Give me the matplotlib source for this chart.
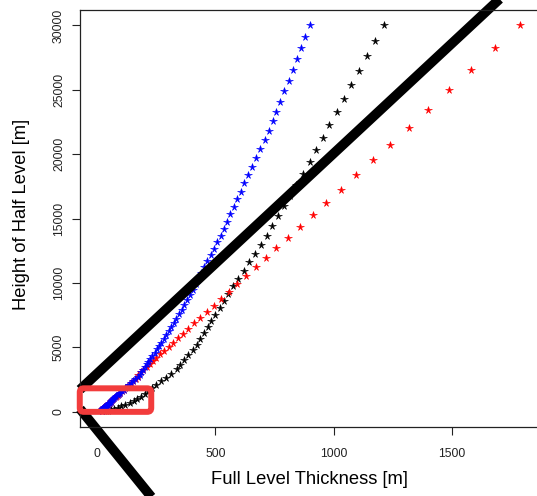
import numpy as np
import matplotlib.pyplot as plt
from matplotlib.patches import FancyBboxPatch

plt.rcParams['font.family'] = ['Liberation Sans', 'DejaVu Sans']

# full level thickness [m] and height of half level [m]
blue_thick = [898, 880, 862, 844, 827, 810, 792, 775, 758, 742,
              726, 708, 690, 673, 656, 639, 623, 608, 592, 578,
              563, 549, 535, 522, 507, 493, 480, 466, 453, 441,
              428, 417, 405, 394, 381, 369, 357, 345, 334, 324,
              313, 303, 293, 282, 272, 262, 252, 243, 234, 225,
              217, 209, 201, 194, 187, 180, 173, 162, 153, 144,
              135, 127, 119, 112, 105, 99, 93, 88, 82, 77,
              73, 68, 64, 61, 57, 53, 50, 47, 45, 42,
              39, 37, 35, 33, 31, 29, 27, 25, 24, 22,
              21, 20, 20, 20, 20, 20, 20]
blue_height = [30000, 29102, 28222, 27360, 26516, 25689, 24879, 24087, 23312, 22554,
               21812, 21086, 20378, 19688, 19015, 18359, 17720, 17097, 16489, 15897,
               15319, 14756, 14207, 13672, 13150, 12643, 12150, 11670, 11204, 10751,
               10310, 9882, 9465, 9060, 8666, 8285, 7916, 7559, 7214, 6880,
               6556, 6243, 5940, 5647, 5365, 5093, 4831, 4579, 4336, 4102,
               3877, 3660, 3451, 3250, 3056, 2869, 2689, 2516, 2354, 2201,
               2057, 1922, 1795, 1676, 1564, 1459, 1360, 1267, 1179, 1097,
               1020, 947, 879, 815, 754, 697, 644, 594, 547, 502,
               460, 421, 384, 349, 316, 285, 256, 229, 204, 180,
               157, 136, 116, 96, 76, 56, 36]

red_thick = [1788, 1682, 1582, 1487, 1399, 1316, 1237, 1164, 1095, 1029,
             968, 911, 856, 805, 758, 712, 670, 630, 593, 557,
             524, 493, 464, 436, 410, 386, 363, 341, 321, 302,
             284, 267, 251, 236, 222, 209, 196, 185, 174, 173,
             163, 153, 144, 135, 127, 120, 112, 106, 99, 93,
             88, 83, 78, 73, 69, 64, 61, 57, 54, 50,
             47, 45, 42, 39, 37, 35, 33, 31, 29, 27,
             25, 24, 22, 21, 20, 20, 20, 20, 20, 20]
red_height = [30000, 28212, 26530, 24948, 23461, 22062, 20746, 19509, 18345, 17250,
              16221, 15253, 14342, 13486, 12681, 11923, 11211, 10541, 9911, 9318,
              8761, 8237, 7744, 7280, 6844, 6434, 6048, 5685, 5344, 5023,
              4721, 4437, 4170, 3919, 3683, 3461, 3252, 3056, 2871, 2697,
              2524, 2361, 2208, 2064, 1929, 1802, 1682, 1570, 1464, 1365,
              1272, 1184, 1101, 1023, 950, 881, 817, 756, 699, 645,
              595, 548, 503, 461, 422, 385, 350, 317, 286, 257,
              230, 205, 181, 158, 137, 117, 97, 77, 57, 37]

black_thick = [1212, 1176, 1141, 1108, 1075, 1043, 1012, 982, 953, 925,
               898, 869, 842, 815, 789, 764, 740, 717, 691, 666,
               642, 619, 597, 575, 555, 536, 518, 500, 483, 467,
               451, 435, 421, 404, 385, 368, 352, 336, 312, 290,
               269, 250, 232, 216, 202, 187, 170, 155, 139, 120,
               103, 89, 71, 57, 45, 36]
black_height = [30000, 28788, 27612, 26471, 25363, 24288, 23245, 22233, 21251, 20298,
                19373, 18475, 17606, 16764, 15949, 15160, 14396, 13656, 12939, 12248,
                11582, 10940, 10321, 9724, 9149, 8594, 8058, 7540, 7040, 6557,
                6090, 5639, 5204, 4783, 4379, 3994, 3626, 3274, 2938, 2626,
                2336, 2067, 1817, 1585, 1369, 1167, 980, 810, 655, 516,
                396, 293, 204, 133, 76, 31]

x_ticks = [0, 500, 1000, 1500]
y_ticks = [0, 5000, 10000, 15000, 20000, 25000, 30000]

# hand drawn marks on top of the plot (data units)
upper_line = ([-72, 1756], [1710, 33000])
lower_line = ([-72, 272], [209, -7597])
zoom_box = (-73, -23, 302, 1829)   # x0, y0, width, height

fig = plt.figure(figsize=(5.37, 4.96), dpi=100)
# right edge of the frame sits just past the picture, as in the cropped original
ax = fig.add_axes([80 / 537, 69 / 496, 462 / 537, 417 / 496])

ax.plot(black_thick, black_height, ls='none', marker='*', ms=5.6, mew=0.4, color='black')
ax.plot(red_thick, red_height, ls='none', marker='*', ms=5.6, mew=0.4, color='#ff0000')
ax.plot(blue_thick, blue_height, ls='none', marker='*', ms=5.6, mew=0.4, color='#0000ff')

ax.plot(*upper_line, color='black', lw=7, solid_capstyle='butt', clip_on=False)
ax.plot(*lower_line, color='black', lw=7, solid_capstyle='butt', clip_on=False)

box = FancyBboxPatch((zoom_box[0], zoom_box[1]), zoom_box[2], zoom_box[3],
                     boxstyle='round,pad=0,rounding_size=17', mutation_aspect=18.35,
                     ec='#f23c3c', fc='none', lw=4.3, clip_on=False, zorder=5)
ax.add_patch(box)

ax.set_xlim(-72, 1880)
ax.set_ylim(-1200, 31200)
ax.set_xticks(x_ticks)
ax.set_yticks(y_ticks)
ax.tick_params(direction='out', length=5.8, width=0.8, labelsize=8.8, colors='#222222')
ax.tick_params(axis='x', pad=9.4)
ax.tick_params(axis='y', pad=5)
for lab in ax.get_yticklabels():
    lab.set_rotation(90)
    lab.set_va('center')
for s in ax.spines.values():
    s.set_linewidth(0.9)
    s.set_color('#222222')

ax.set_xlabel('Full Level Thickness [m]', fontsize=13.2, va='center')
ax.set_ylabel('Height of Half Level [m]', fontsize=13.2, va='center')
ax.xaxis.set_label_coords(0.5 - 2 / 462, -(480 - 427) / 417)
ax.yaxis.set_label_coords((22 - 80) / 462, 0.51)

fig.savefig('out.png', dpi=100)
